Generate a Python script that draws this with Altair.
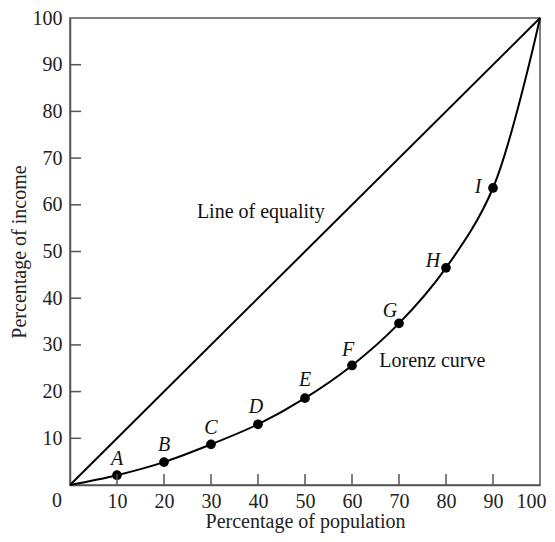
import altair as alt
import pandas as pd

# data
population = [0, 10, 20, 30, 40, 50, 60, 70, 80, 90, 100]
income = [0, 2.1, 4.9, 8.7, 13.0, 18.6, 25.6, 34.6, 46.5, 63.6, 100]
point_x = [10, 20, 30, 40, 50, 60, 70, 80, 90]
point_y = [2.1, 4.9, 8.7, 13.0, 18.6, 25.6, 34.6, 46.5, 63.6]
point_names = ["A", "B", "C", "D", "E", "F", "G", "H", "I"]
tick_values = [10, 20, 30, 40, 50, 60, 70, 80, 90]
label_values = [10, 20, 30, 40, 50, 60, 70, 80, 90, 100]
equality_x = [0, 100]
equality_y = [0, 100]

W, H = 470, 467
FONT = "Liberation Serif"
GRAY = "#555555"
TXT = "#222222"

curve_df = pd.DataFrame({"x": population, "y": income})
pts_df = pd.DataFrame({"x": point_x, "y": point_y, "name": point_names})
eq_df = pd.DataFrame({"x": equality_x, "y": equality_y})
ticks_df = pd.DataFrame({"v": tick_values})

xs = alt.Scale(domain=[0, 100], nice=False, zero=False)
ys = alt.Scale(domain=[0, 100], nice=False, zero=False)

xaxis = alt.Axis(values=label_values, ticks=False, grid=False,
                 labelFont=FONT, labelFontSize=20, labelColor=TXT,
                 labelPadding=6, labelFlush=True, labelFlushOffset=6,
                 domainColor=GRAY, domainWidth=1.5,
                 title="Percentage of population", titleFont=FONT,
                 titleFontSize=20, titleFontWeight="normal", titleColor=TXT,
                 titlePadding=0)
yaxis = alt.Axis(values=label_values, ticks=False, grid=False,
                 labelFont=FONT, labelFontSize=20, labelColor=TXT,
                 labelPadding=8, domainColor=GRAY, domainWidth=1.5,
                 title="Percentage of income", titleFont=FONT,
                 titleFontSize=20, titleFontWeight="normal", titleColor=TXT,
                 titlePadding=3)

base_axes = alt.Chart(eq_df).mark_line(color="black", strokeWidth=2).encode(
    x=alt.X("x:Q", scale=xs, axis=xaxis),
    y=alt.Y("y:Q", scale=ys, axis=yaxis),
)

curve = alt.Chart(curve_df).mark_line(color="black", strokeWidth=2,
                                      interpolate="catmull-rom").encode(
    x=alt.X("x:Q", scale=xs), y=alt.Y("y:Q", scale=ys))

dots = alt.Chart(pts_df).mark_circle(color="black", opacity=1, size=95).encode(
    x=alt.X("x:Q", scale=xs), y=alt.Y("y:Q", scale=ys))

# inward ticks
xticks = alt.Chart(ticks_df).mark_rule(color=GRAY, strokeWidth=1.5).encode(
    x=alt.X("v:Q", scale=xs), y=alt.value(H), y2=alt.value(H - 11))
yticks = alt.Chart(ticks_df).mark_rule(color=GRAY, strokeWidth=1.5).encode(
    y=alt.Y("v:Q", scale=ys), x=alt.value(0), x2=alt.value(11))

# point letters
offsets = {"A": (0, -16), "B": (0, -17), "C": (0, -16), "D": (-2, -17),
           "E": (0, -18), "F": (-4, -15), "G": (-9, -12), "H": (-13, -7),
           "I": (-15, -1)}
letter_layers = []
for name in point_names:
    dx, dy = offsets[name]
    letter_layers.append(
        alt.Chart(pts_df).transform_filter(alt.datum.name == name)
        .mark_text(font=FONT, fontSize=20, fontStyle="italic", color="#111",
                   dx=dx, dy=dy, baseline="middle", align="center")
        .encode(x=alt.X("x:Q", scale=xs), y=alt.Y("y:Q", scale=ys),
                text="name:N"))

ann_df = pd.DataFrame({"x": [27.0, 65.8], "y": [58.4, 26.6],
                       "t": ["Line of equality", "Lorenz curve"]})
ann = alt.Chart(ann_df).mark_text(font=FONT, fontSize=20, color="#111",
                                  align="left", baseline="middle").encode(
    x=alt.X("x:Q", scale=xs), y=alt.Y("y:Q", scale=ys), text="t:N")

zero_df = pd.DataFrame({"x": [0], "y": [0], "t": ["0"]})
zero = alt.Chart(zero_df).mark_text(font=FONT, fontSize=20, color=TXT,
                                    dx=-13, dy=16, baseline="middle").encode(
    x=alt.X("x:Q", scale=xs), y=alt.Y("y:Q", scale=ys), text="t:N")

chart = alt.layer(base_axes, curve, dots, xticks, yticks, ann, zero,
                  *letter_layers).properties(
    width=W, height=H,
    autosize=alt.AutoSizeParams(type="none"),
    padding={"left": 62, "top": 10, "right": 7, "bottom": 49},
).configure_view(stroke=GRAY, strokeWidth=1.5)

chart.save("out.html", embed_options={"renderer": "svg", "actions": False})
